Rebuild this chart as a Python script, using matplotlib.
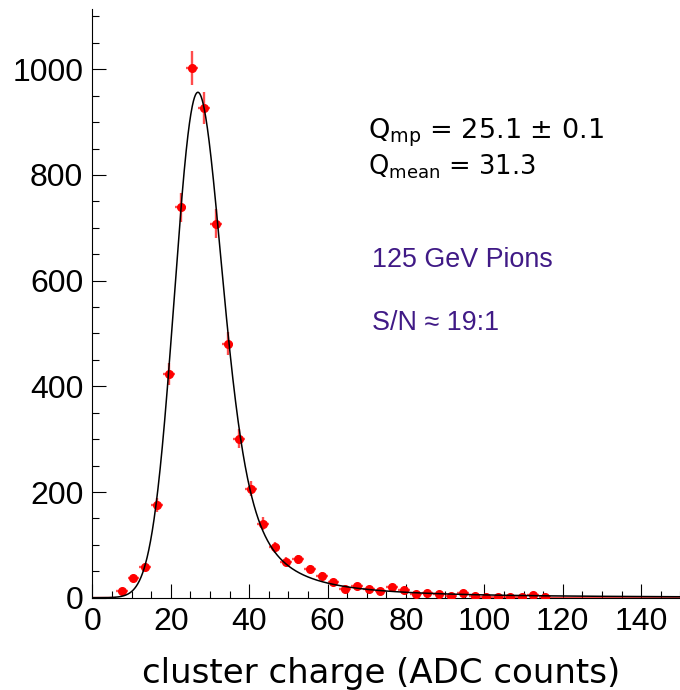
import numpy as np
import matplotlib
matplotlib.use("Agg")
import matplotlib.pyplot as plt
from matplotlib.ticker import MultipleLocator

# Cluster-charge histogram: 3-ADC bins, centres 1.5 ... 148.5
bin_width = 3.0
bin_centers = np.arange(1.5, 150, 3.0)
counts = np.array([
    0, 0, 13, 37, 58, 175, 424, 739, 1002, 926,
    708, 481, 301, 206, 140, 95, 68, 73, 55, 42,
    30, 16, 23, 16, 13, 21, 14, 7, 9, 7,
    4, 9, 3, 2, 2, 1, 2, 6, 1, 0,
    0, 0, 0, 0, 0, 0, 0, 0, 0, 0,
], dtype=float)

# Landau (x) Gaussian fit results
MPV = 25.1            # most probable value of the Landau component
LANDAU_WIDTH = 1.5
GAUSS_SIGMA = 5.1
AREA = 17195.0        # entries x bin width
MPSHIFT = -0.22278298  # location of the standard Landau maximum

x_ticks_step = 20
y_ticks_step = 200


def landau_std(lam):
    """Standard Landau density from its integral representation."""
    t = np.concatenate([np.geomspace(1e-7, 0.5, 3000), np.linspace(0.5, 40, 40000)[1:]])
    w = np.zeros_like(t)
    dt = np.diff(t)
    w[:-1] += dt / 2
    w[1:] += dt / 2
    g = np.exp(-t * np.log(t)) * np.sin(np.pi * t) * w
    out = np.zeros_like(lam)
    idx = np.where(lam > -3.2)[0]
    for i in range(0, len(idx), 150):
        sl = idx[i:i + 150]
        out[sl] = np.exp(-np.outer(lam[sl], t)) @ g / np.pi
    return np.clip(out, 0, None)


lam_tab = np.arange(-3.2, 80.0, 0.05)
phi_tab = landau_std(lam_tab)


def landau(lam):
    res = np.interp(lam, lam_tab, phi_tab, left=0.0, right=0.0)
    hi = lam > lam_tab[-1]
    res[hi] = phi_tab[-1] * (lam_tab[-1] / lam[hi]) ** 2
    return res


dx = 0.05
xs = np.arange(-60, 230, dx)


def langaus(width, sigma):
    mpc = MPV - MPSHIFT * width
    land = landau((xs - mpc) / width) / width
    k = np.arange(-int(6 * sigma / dx), int(6 * sigma / dx) + 1) * dx
    kern = np.exp(-0.5 * (k / sigma) ** 2)
    kern /= kern.sum()
    return np.convolve(land, kern, mode="same")


curve = AREA * langaus(LANDAU_WIDTH, GAUSS_SIGMA)

fig = plt.figure(figsize=(6.8, 6.9), dpi=100)
ax = fig.add_axes([92.3 / 680, (690 - 597.7) / 690, 588 / 680, 588.7 / 690])

ax.errorbar(bin_centers, counts, xerr=bin_width / 2, yerr=np.sqrt(counts),
            fmt="none", ecolor=(1, 0, 0, 0.7), elinewidth=1.7, capsize=0, zorder=2)
nonzero = counts > 0
ax.plot(bin_centers[nonzero], counts[nonzero], "o", color="red",
        markersize=5.5, zorder=3)
in_range = (xs >= 0) & (xs <= 150)
ax.plot(xs[in_range], curve[in_range], color="black", lw=1.1, zorder=4)

ax.set_xlim(0, 150)
ax.set_ylim(0, 1114)
for s in ("top", "right"):
    ax.spines[s].set_visible(False)
ax.xaxis.set_major_locator(MultipleLocator(x_ticks_step))
ax.xaxis.set_minor_locator(MultipleLocator(5))
ax.yaxis.set_major_locator(MultipleLocator(y_ticks_step))
ax.yaxis.set_minor_locator(MultipleLocator(50))
ax.tick_params(which="both", direction="in", top=False, right=False, width=0.8)
ax.tick_params(which="major", length=10, pad=6.5, labelsize=23)
ax.tick_params(which="minor", length=5)
for lab in ax.get_xticklabels() + ax.get_yticklabels():
    lab.set_fontfamily("Liberation Sans")

fig.text(381 / 680, 1 - 683 / 690, "cluster charge (ADC counts)", fontsize=24.5,
         family="DejaVu Sans", ha="center", va="baseline")

ax.text(70.3, 869, r"Q$_{\mathregular{mp}}$ = 25.1 $\pm$ 0.1", fontsize=19.5,
        family="DejaVu Sans", va="baseline")
ax.text(70.3, 800, r"Q$_{\mathregular{mean}}$ = 31.3", fontsize=18.5,
        family="DejaVu Sans", va="baseline")
purple = "#401a86"
ax.text(71.3, 626, "125 GeV Pions", fontsize=19.4, family="Liberation Sans",
        color=purple, va="baseline")
ax.text(71.3, 506.6, "S/N \u2248 19:1", fontsize=19.4, family="Liberation Sans",
        color=purple, va="baseline")

fig.savefig("out.png", dpi=100)
